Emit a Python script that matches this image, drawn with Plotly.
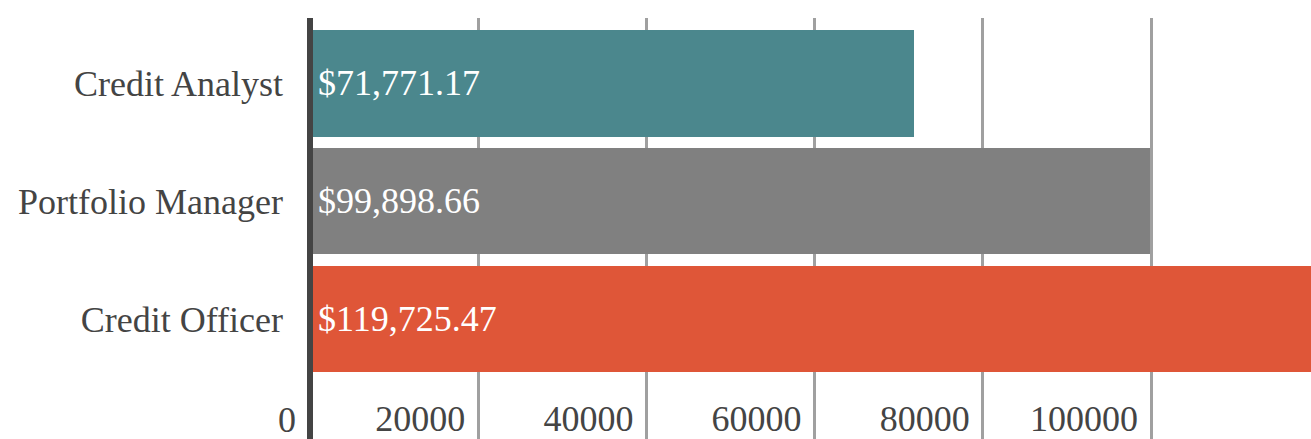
import plotly.graph_objects as go

# Average salary by role
roles = ["Credit Analyst", "Portfolio Manager", "Credit Officer"]
salaries = [71771.17, 99898.66, 119725.47]
bar_colors = ["#4B878D", "#808080", "#DF5638"]
x_ticks = [0, 20000, 40000, 60000, 80000, 100000]

FONT = "Liberation Serif"
TEXT_GRAY = "#444444"

fig = go.Figure()
fig.add_trace(go.Bar(
    y=roles,
    x=salaries,
    orientation="h",
    width=0.904,
    marker=dict(color=bar_colors, line=dict(width=0)),
    hoverinfo="skip",
    showlegend=False,
))

# value labels at the start of each bar
for role, val in zip(roles, salaries):
    fig.add_annotation(
        x=0, y=role, xref="x", yref="y",
        text=f"${val:,.2f}",
        showarrow=False, xanchor="left", yanchor="middle",
        xshift=6,
        font=dict(family=FONT, size=36, color="white"),
    )

# zero tick label sits left of the baseline, outside the plot area
fig.add_annotation(
    x=0, y=0, xref="paper", yref="paper",
    text=str(x_ticks[0]),
    showarrow=False, xanchor="right", yanchor="bottom",
    xshift=-12, yshift=-3,
    font=dict(family=FONT, size=36, color=TEXT_GRAY),
)

# heavy baseline at zero
fig.add_shape(
    type="line", xref="paper", yref="paper",
    x0=0, x1=0, y0=0, y1=1,
    line=dict(color="#444444", width=6),
    layer="above",
)

fig.update_layout(
    width=1311, height=439,
    margin=dict(l=310, r=0, t=18, b=0),
    paper_bgcolor="white", plot_bgcolor="white",
    bargap=0,
    xaxis=dict(
        range=[0, 119025],
        tickmode="array", tickvals=x_ticks,
        ticktext=[str(v) for v in x_ticks],
        ticklabelposition="inside left",
        ticklabelshift=-13,
        ticklabelstandoff=-5,
        showgrid=True, gridcolor="#A0A0A0", gridwidth=3,
        zeroline=False, showline=False,
        tickfont=dict(family=FONT, size=36, color=TEXT_GRAY),
    ),
    yaxis=dict(
        type="category",
        categoryorder="array", categoryarray=roles,
        range=[3.017, -0.553],
        showgrid=False, zeroline=False, showline=False,
        ticks="", ticklabelstandoff=26,
        tickfont=dict(family=FONT, size=36, color=TEXT_GRAY),
    ),
)

fig.write_html("out.html")
